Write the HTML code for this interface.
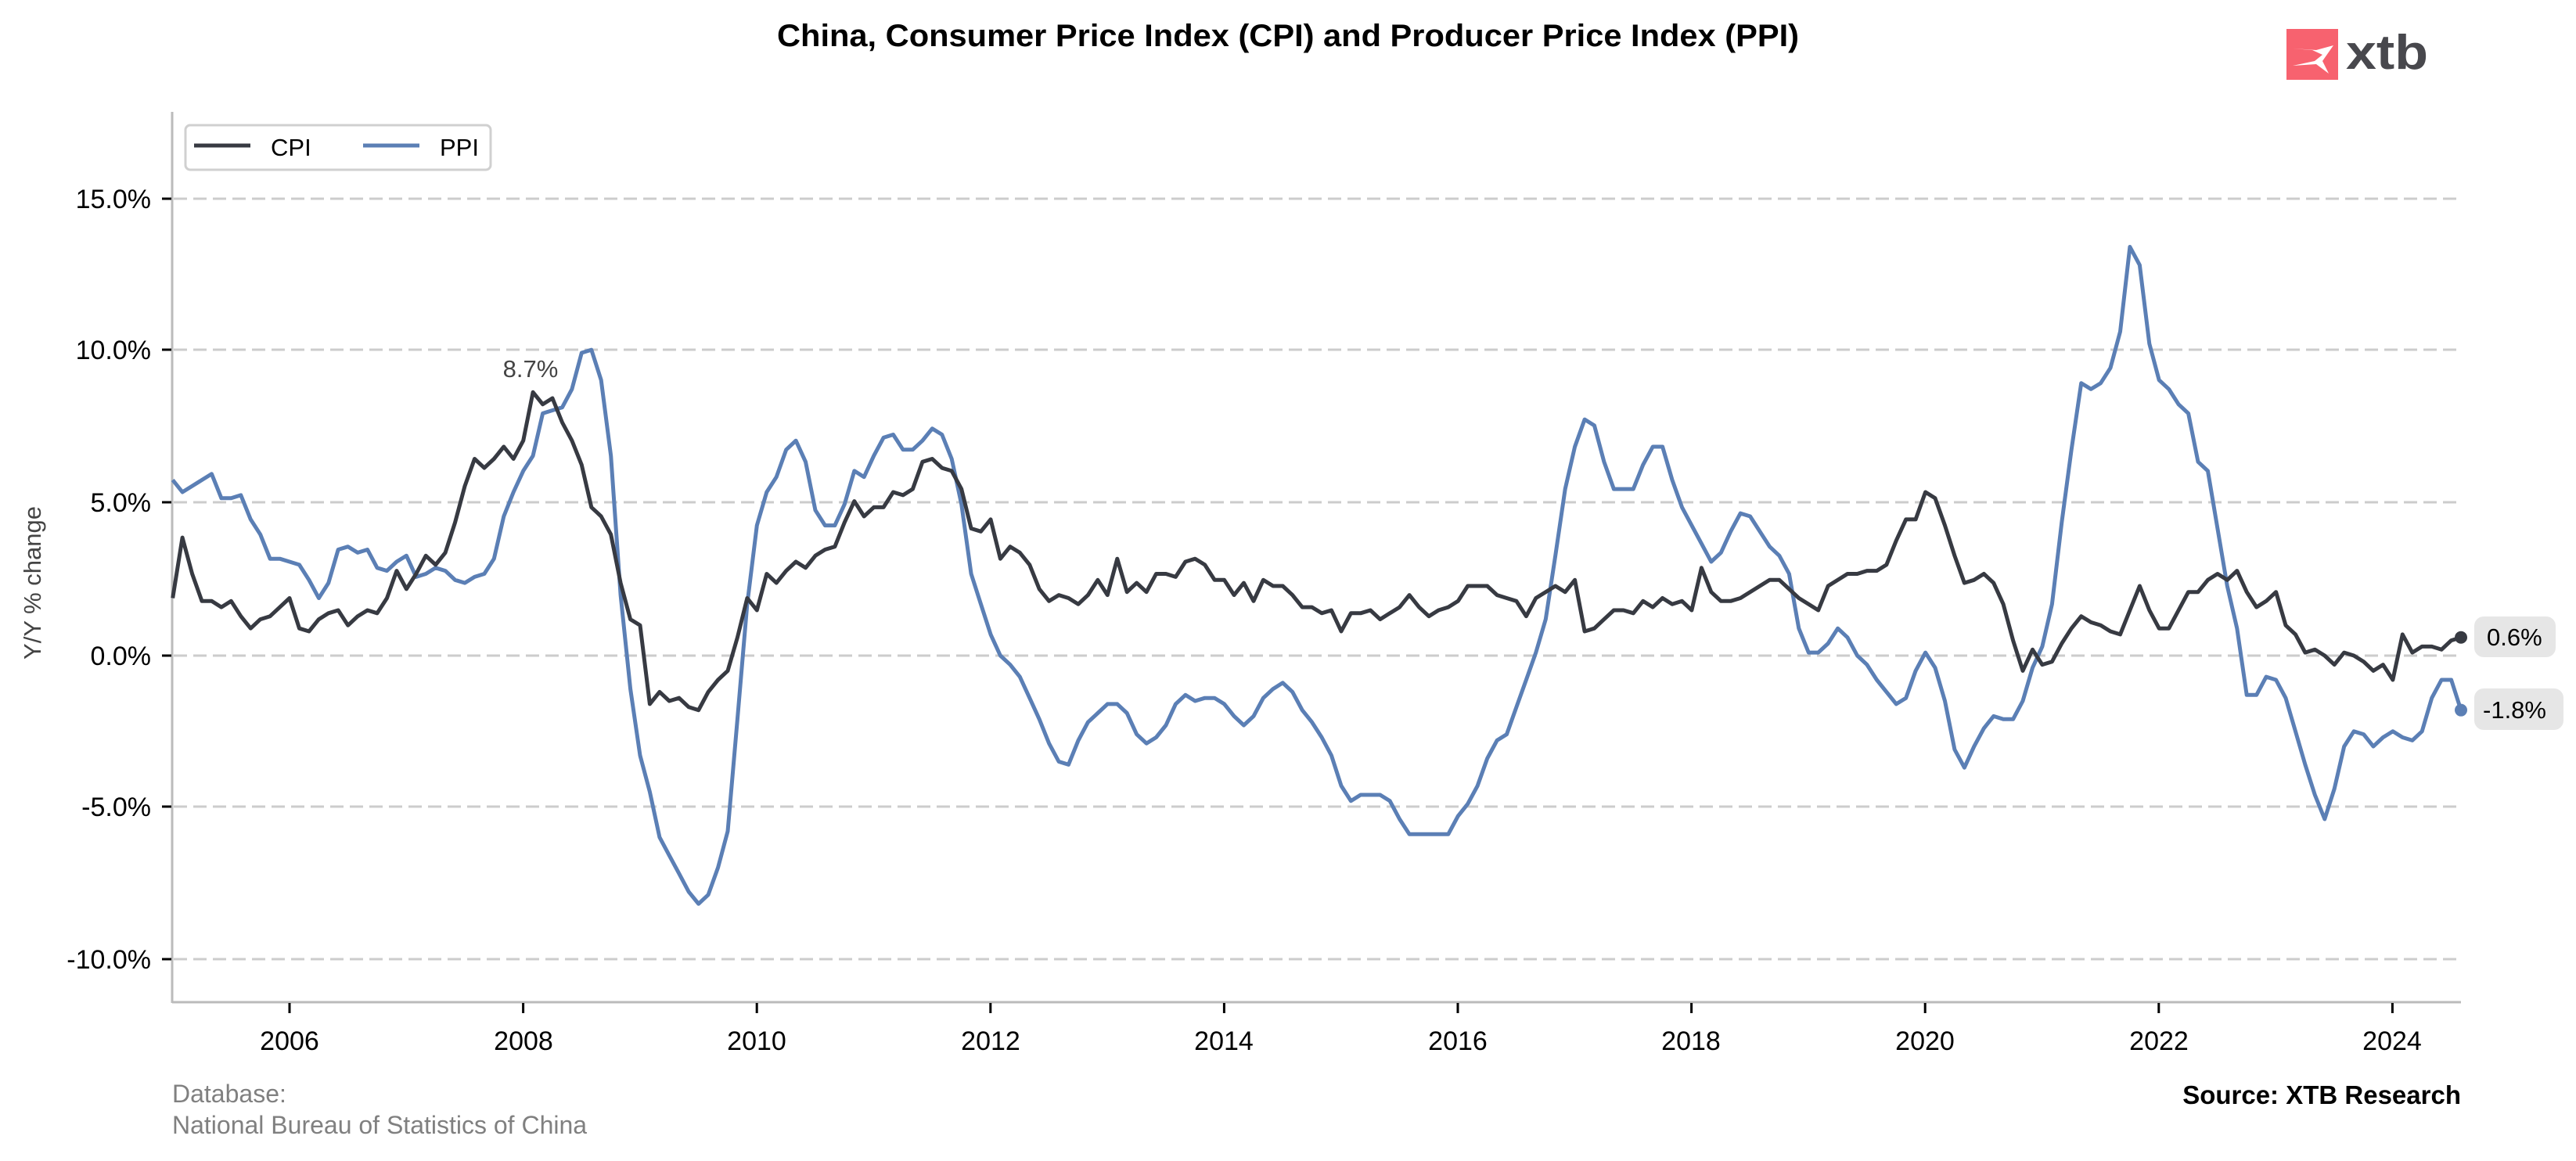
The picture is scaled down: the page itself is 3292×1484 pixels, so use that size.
<!DOCTYPE html>
<html><head><meta charset="utf-8"><style>
html,body{margin:0;padding:0;background:#fff;}
svg{display:block;font-family:"Liberation Sans",Arial,sans-serif;}
</style></head><body>
<svg id="s" width="3292" height="1484" viewBox="0 0 3292 1484" xmlns="http://www.w3.org/2000/svg">
<rect width="3292" height="1484" fill="#fff"/>
<text x="1646" y="59" text-anchor="middle" font-size="40" font-weight="bold" fill="#000" textLength="1306" lengthAdjust="spacingAndGlyphs">China, Consumer Price Index (CPI) and Producer Price Index (PPI)</text>
<rect x="2922" y="37" width="66" height="65" fill="#f7626f"/>
<path d="M2930 62 L2955 64 L2968 70 L2958 78 L2930 84 L2960 82 L2976 94 L2968 78 L2982 58 L2960 64 Z" fill="#fff"/>
<text x="2998" y="88" font-size="62" font-weight="bold" fill="#48484d" textLength="105" lengthAdjust="spacingAndGlyphs">xtb</text>
<g id="grid" stroke="#cccccc" stroke-width="3" stroke-dasharray="17 8">
<line x1="222" x2="3145" y1="254" y2="254"/>
<line x1="222" x2="3145" y1="447" y2="447"/>
<line x1="222" x2="3145" y1="642" y2="642"/>
<line x1="222" x2="3145" y1="838" y2="838"/>
<line x1="222" x2="3145" y1="1031" y2="1031"/>
<line x1="222" x2="3145" y1="1226" y2="1226"/>
</g>
<line x1="220" y1="143" x2="220" y2="1282" stroke="#bbb" stroke-width="3"/>
<line x1="220" y1="1281" x2="3145" y2="1281" stroke="#bbb" stroke-width="3"/>
<g stroke="#000" stroke-width="3">
<line x1="207" x2="219" y1="254" y2="254"/><line x1="207" x2="219" y1="447" y2="447"/><line x1="207" x2="219" y1="642" y2="642"/><line x1="207" x2="219" y1="838" y2="838"/><line x1="207" x2="219" y1="1031" y2="1031"/><line x1="207" x2="219" y1="1226" y2="1226"/>
</g>
<g font-size="34" fill="#000" text-anchor="end">
<text x="193" y="266">15.0%</text><text x="193" y="459">10.0%</text><text x="193" y="654">5.0%</text><text x="193" y="850">0.0%</text><text x="193" y="1043">-5.0%</text><text x="193" y="1238">-10.0%</text>
</g>
<g id="xt" stroke="#000" stroke-width="3"></g>
<g font-size="34" fill="#000" text-anchor="middle">
<text x="370" y="1342">2006</text><text x="669" y="1342">2008</text><text x="967" y="1342">2010</text><text x="1266" y="1342">2012</text><text x="1564" y="1342">2014</text><text x="1863" y="1342">2016</text><text x="2161" y="1342">2018</text><text x="2460" y="1342">2020</text><text x="2759" y="1342">2022</text><text x="3057" y="1342">2024</text>
</g>
<text transform="translate(52,745) rotate(-90)" text-anchor="middle" font-size="31" fill="#444">Y/Y % change</text>
<path id="ppi" fill="none" stroke="#5b7fb5" stroke-width="5" stroke-linejoin="round"/>
<path id="cpi" fill="none" stroke="#373a42" stroke-width="5" stroke-linejoin="round"/>
<circle id="cd" r="8" fill="#373a42"/><circle id="pd" r="8" fill="#5b7fb5"/>
<text x="678" y="482" text-anchor="middle" font-size="31" fill="#444">8.7%</text>
<rect x="3162" y="788" width="104" height="52" rx="12" fill="#e6e6e6"/>
<text x="3178" y="825" font-size="31" fill="#000">0.6%</text>
<rect x="3162" y="880" width="114" height="53" rx="12" fill="#e6e6e6"/>
<text x="3173" y="918" font-size="31" fill="#000">-1.8%</text>
<rect x="237" y="160" width="390" height="57" rx="6" fill="#fff" stroke="#d0d0d0" stroke-width="3"/>
<line x1="248" x2="320" y1="186" y2="186" stroke="#373a42" stroke-width="5"/>
<text x="346" y="199" font-size="31" fill="#000">CPI</text>
<line x1="464" x2="536" y1="186" y2="186" stroke="#5b7fb5" stroke-width="5"/>
<text x="562" y="199" font-size="31" fill="#000">PPI</text>
<text x="220" y="1409" font-size="32" fill="#808080">Database:</text>
<text x="220" y="1449" font-size="32" fill="#808080">National Bureau of Statistics of China</text>
<text x="3145" y="1411" text-anchor="end" font-size="33" font-weight="bold" fill="#000">Source: XTB Research</text>
</svg>
<script>
var cpi=[1.9,3.9,2.7,1.8,1.8,1.6,1.8,1.3,0.9,1.2,1.3,1.6,1.9,0.9,0.8,1.2,1.4,1.5,1.0,1.3,1.5,1.4,1.9,2.8,2.2,2.7,3.3,3.0,3.4,4.4,5.6,6.5,6.2,6.5,6.9,6.5,7.1,8.7,8.3,8.5,7.7,7.1,6.3,4.9,4.6,4.0,2.4,1.2,1.0,-1.6,-1.2,-1.5,-1.4,-1.7,-1.8,-1.2,-0.8,-0.5,0.6,1.9,1.5,2.7,2.4,2.8,3.1,2.9,3.3,3.5,3.6,4.4,5.1,4.6,4.9,4.9,5.4,5.3,5.5,6.4,6.5,6.2,6.1,5.5,4.2,4.1,4.5,3.2,3.6,3.4,3.0,2.2,1.8,2.0,1.9,1.7,2.0,2.5,2.0,3.2,2.1,2.4,2.1,2.7,2.7,2.6,3.1,3.2,3.0,2.5,2.5,2.0,2.4,1.8,2.5,2.3,2.3,2.0,1.6,1.6,1.4,1.5,0.8,1.4,1.4,1.5,1.2,1.4,1.6,2.0,1.6,1.3,1.5,1.6,1.8,2.3,2.3,2.3,2.0,1.9,1.8,1.3,1.9,2.1,2.3,2.1,2.5,0.8,0.9,1.2,1.5,1.5,1.4,1.8,1.6,1.9,1.7,1.8,1.5,2.9,2.1,1.8,1.8,1.9,2.1,2.3,2.5,2.5,2.2,1.9,1.7,1.5,2.3,2.5,2.7,2.7,2.8,2.8,3.0,3.8,4.5,4.5,5.4,5.2,4.3,3.3,2.4,2.5,2.7,2.4,1.7,0.5,-0.5,0.2,-0.3,-0.2,0.4,0.9,1.3,1.1,1.0,0.8,0.7,1.5,2.3,1.5,0.9,0.9,1.5,2.1,2.1,2.5,2.7,2.5,2.8,2.1,1.6,1.8,2.1,1.0,0.7,0.1,0.2,0.0,-0.3,0.1,0.0,-0.2,-0.5,-0.3,-0.8,0.7,0.1,0.3,0.3,0.2,0.5,0.6];
var ppi=[5.8,5.4,5.6,5.8,6.0,5.2,5.2,5.3,4.5,4.0,3.2,3.2,3.1,3.0,2.5,1.9,2.4,3.5,3.6,3.4,3.5,2.9,2.8,3.1,3.3,2.6,2.7,2.9,2.8,2.5,2.4,2.6,2.7,3.2,4.6,5.4,6.1,6.6,8.0,8.1,8.2,8.8,10.0,10.1,9.1,6.6,2.0,-1.1,-3.3,-4.5,-6.0,-6.6,-7.2,-7.8,-8.2,-7.9,-7.0,-5.8,-2.1,1.7,4.3,5.4,5.9,6.8,7.1,6.4,4.8,4.3,4.3,5.0,6.1,5.9,6.6,7.2,7.3,6.8,6.8,7.1,7.5,7.3,6.5,5.0,2.7,1.7,0.7,0.0,-0.3,-0.7,-1.4,-2.1,-2.9,-3.5,-3.6,-2.8,-2.2,-1.9,-1.6,-1.6,-1.9,-2.6,-2.9,-2.7,-2.3,-1.6,-1.3,-1.5,-1.4,-1.4,-1.6,-2.0,-2.3,-2.0,-1.4,-1.1,-0.9,-1.2,-1.8,-2.2,-2.7,-3.3,-4.3,-4.8,-4.6,-4.6,-4.6,-4.8,-5.4,-5.9,-5.9,-5.9,-5.9,-5.9,-5.3,-4.9,-4.3,-3.4,-2.8,-2.6,-1.7,-0.8,0.1,1.2,3.3,5.5,6.9,7.8,7.6,6.4,5.5,5.5,5.5,6.3,6.9,6.9,5.8,4.9,4.3,3.7,3.1,3.4,4.1,4.7,4.6,4.1,3.6,3.3,2.7,0.9,0.1,0.1,0.4,0.9,0.6,0.0,-0.3,-0.8,-1.2,-1.6,-1.4,-0.5,0.1,-0.4,-1.5,-3.1,-3.7,-3.0,-2.4,-2.0,-2.1,-2.1,-1.5,-0.4,0.3,1.7,4.4,6.8,9.0,8.8,9.0,9.5,10.7,13.5,12.9,10.3,9.1,8.8,8.3,8.0,6.4,6.1,4.2,2.3,0.9,-1.3,-1.3,-0.7,-0.8,-1.4,-2.5,-3.6,-4.6,-5.4,-4.4,-3.0,-2.5,-2.6,-3.0,-2.7,-2.5,-2.7,-2.8,-2.5,-1.4,-0.8,-0.8,-1.8];
function X(i){return 220.7+i*(3145-220.7)/235;}
function Y(v){return 838-38.7*v;}
function p(a){return a.map(function(v,i){return(i?'L':'M')+X(i).toFixed(1)+' '+Y(v).toFixed(1);}).join('');}
document.getElementById('cpi').setAttribute('d',p(cpi));
document.getElementById('ppi').setAttribute('d',p(ppi));
var c=document.getElementById('cd');c.setAttribute('cx',X(235));c.setAttribute('cy',Y(0.6));
var d=document.getElementById('pd');d.setAttribute('cx',X(235));d.setAttribute('cy',Y(-1.8));
var g=document.getElementById('xt'),h='';
for(var k=0;k<10;k++){var x=370+k*298.6;h+='<line x1="'+x+'" x2="'+x+'" y1="1282" y2="1295"/>';}
g.innerHTML=h;
</script>
</body></html>
